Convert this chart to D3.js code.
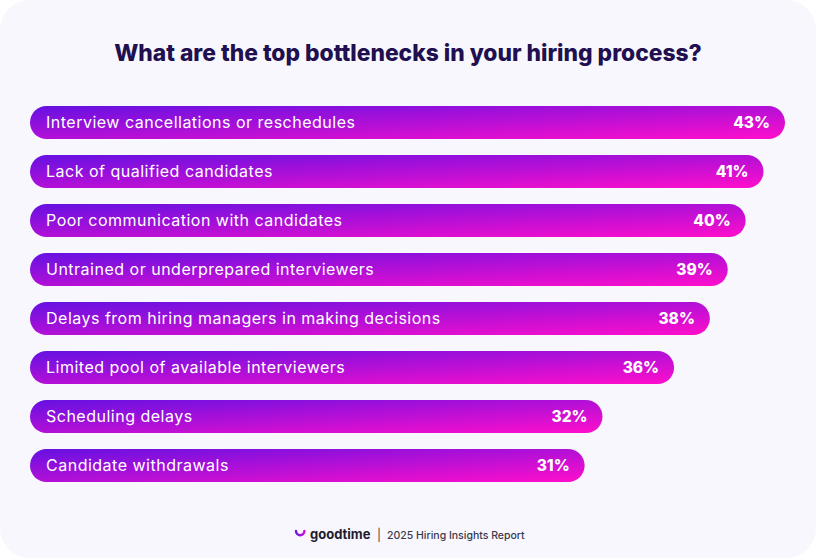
<!DOCTYPE html>
<html>
<head>
	<title>hiring-bottlenecks</title>
	<meta charset="utf-8">
	<style type="text/css">
		html, body { margin: 0; padding: 0; background: #ffffff; }
		svg { display: block; }
	</style>
</head>
<body>

<script type="text/javascript" src="https://cdn.jsdelivr.net/npm/d3@7"></script>
<script type="text/javascript">
	/*=========DATA=========*/
	var categories = [
		"Interview cancellations or reschedules",
		"Lack of qualified candidates",
		"Poor communication with candidates",
		"Untrained or underprepared interviewers",
		"Delays from hiring managers in making decisions",
		"Limited pool of available interviewers",
		"Scheduling delays",
		"Candidate withdrawals"
	];
	var values = [43, 41, 40, 39, 38, 36, 32, 31];
	var title = "What are the top bottlenecks in your hiring process?";
	var brand = "goodtime";
	var source = "2025 Hiring Insights Report";

	/*=====SIZE SVG======*/
	var w = 816;
	var h = 558;
	var font = "Inter, 'Noto Sans', sans-serif";
	var svg = d3.select("body").append("svg").attr("width", w).attr("height", h);

	// card
	svg.append("rect")
		.attr("width", w).attr("height", h)
		.attr("rx", 30).attr("ry", 30)
		.attr("fill", "#f8f7fe");

	var defs = svg.append("defs");
	// gradient, per bar
	var grad = defs.append("linearGradient")
		.attr("id", "barGrad")
		.attr("x1", 0).attr("y1", 0).attr("x2", 1).attr("y2", 1);
	grad.append("stop").attr("offset", "0%").attr("stop-color", "#6511e2");
	grad.append("stop").attr("offset", "100%").attr("stop-color", "#ff0ecb");

	var logoGrad = defs.append("linearGradient")
		.attr("id", "logoGrad")
		.attr("x1", 0).attr("y1", 0).attr("x2", 1).attr("y2", 0);
	logoGrad.append("stop").attr("offset", "0%").attr("stop-color", "#6a14e6");
	logoGrad.append("stop").attr("offset", "100%").attr("stop-color", "#d10fd6");

	/*=========SCALES============*/
	var left = 30;
	var barH = 33;
	// longest bar is clamped so it stays inside the card
	var x = d3.scaleLinear().domain([0, 42.2]).range([0, 755]).clamp(true);
	var y = d3.scaleBand().domain(categories).range([106, 106 + 49 * categories.length]);

	// title
	svg.append("text")
		.attr("x", w / 2).attr("y", 61)
		.attr("text-anchor", "middle")
		.attr("font-family", font)
		.attr("font-weight", 800)
		.attr("font-size", 22.8)
		.attr("fill", "#21104f")
		.text(title);

	// 分组
	var rows = svg.selectAll("g.row")
		.data(categories)
		.enter()
		.append("g")
		.attr("class", "row")
		.attr("transform", function(d){ return "translate(" + left + "," + y(d) + ")"; });

	rows.append("rect")
		.attr("width", function(d, i){ return x(values[i]); })
		.attr("height", barH)
		.attr("rx", barH / 2).attr("ry", barH / 2)
		.attr("fill", "url(#barGrad)");

	rows.append("text")
		.attr("x", 16)
		.attr("y", barH / 2)
		.attr("dy", "0.36em")
		.attr("font-family", font)
		.attr("font-size", 16)
		.attr("letter-spacing", 0.5)
		.attr("fill", "#ffffff")
		.text(function(d){ return d; });

	rows.append("text")
		.attr("x", function(d, i){ return x(values[i]) - 15; })
		.attr("y", barH / 2)
		.attr("dy", "0.36em")
		.attr("text-anchor", "end")
		.attr("font-family", font)
		.attr("font-weight", 800)
		.attr("font-size", 15.5)
		.attr("fill", "#ffffff")
		.text(function(d, i){ return values[i] + "%"; });

	/*=========FOOTER============*/
	var foot = svg.append("g").attr("transform", "translate(0,535)");
	foot.append("path")
		.attr("d", "M296,-4 A4.2,4.2 0 0 0 304.4,-4")
		.attr("fill", "none")
		.attr("stroke", "url(#logoGrad)")
		.attr("stroke-width", 2.4)
		.attr("stroke-linecap", "round");
	foot.append("text")
		.attr("x", 310).attr("y", 4)
		.attr("font-family", font)
		.attr("font-weight", 700)
		.attr("font-size", 13)
		.attr("fill", "#1e1b2e")
		.text(brand);
	foot.append("text")
		.attr("x", 379).attr("y", 4)
		.attr("text-anchor", "middle")
		.attr("font-family", font)
		.attr("font-size", 12)
		.attr("fill", "#3a3a4a")
		.text("|");
	foot.append("text")
		.attr("x", 387).attr("y", 3.5)
		.attr("font-family", font)
		.attr("font-weight", 500)
		.attr("font-size", 10.5)
		.attr("fill", "#3a3a4a")
		.text(source);
</script>
</body>
</html>
